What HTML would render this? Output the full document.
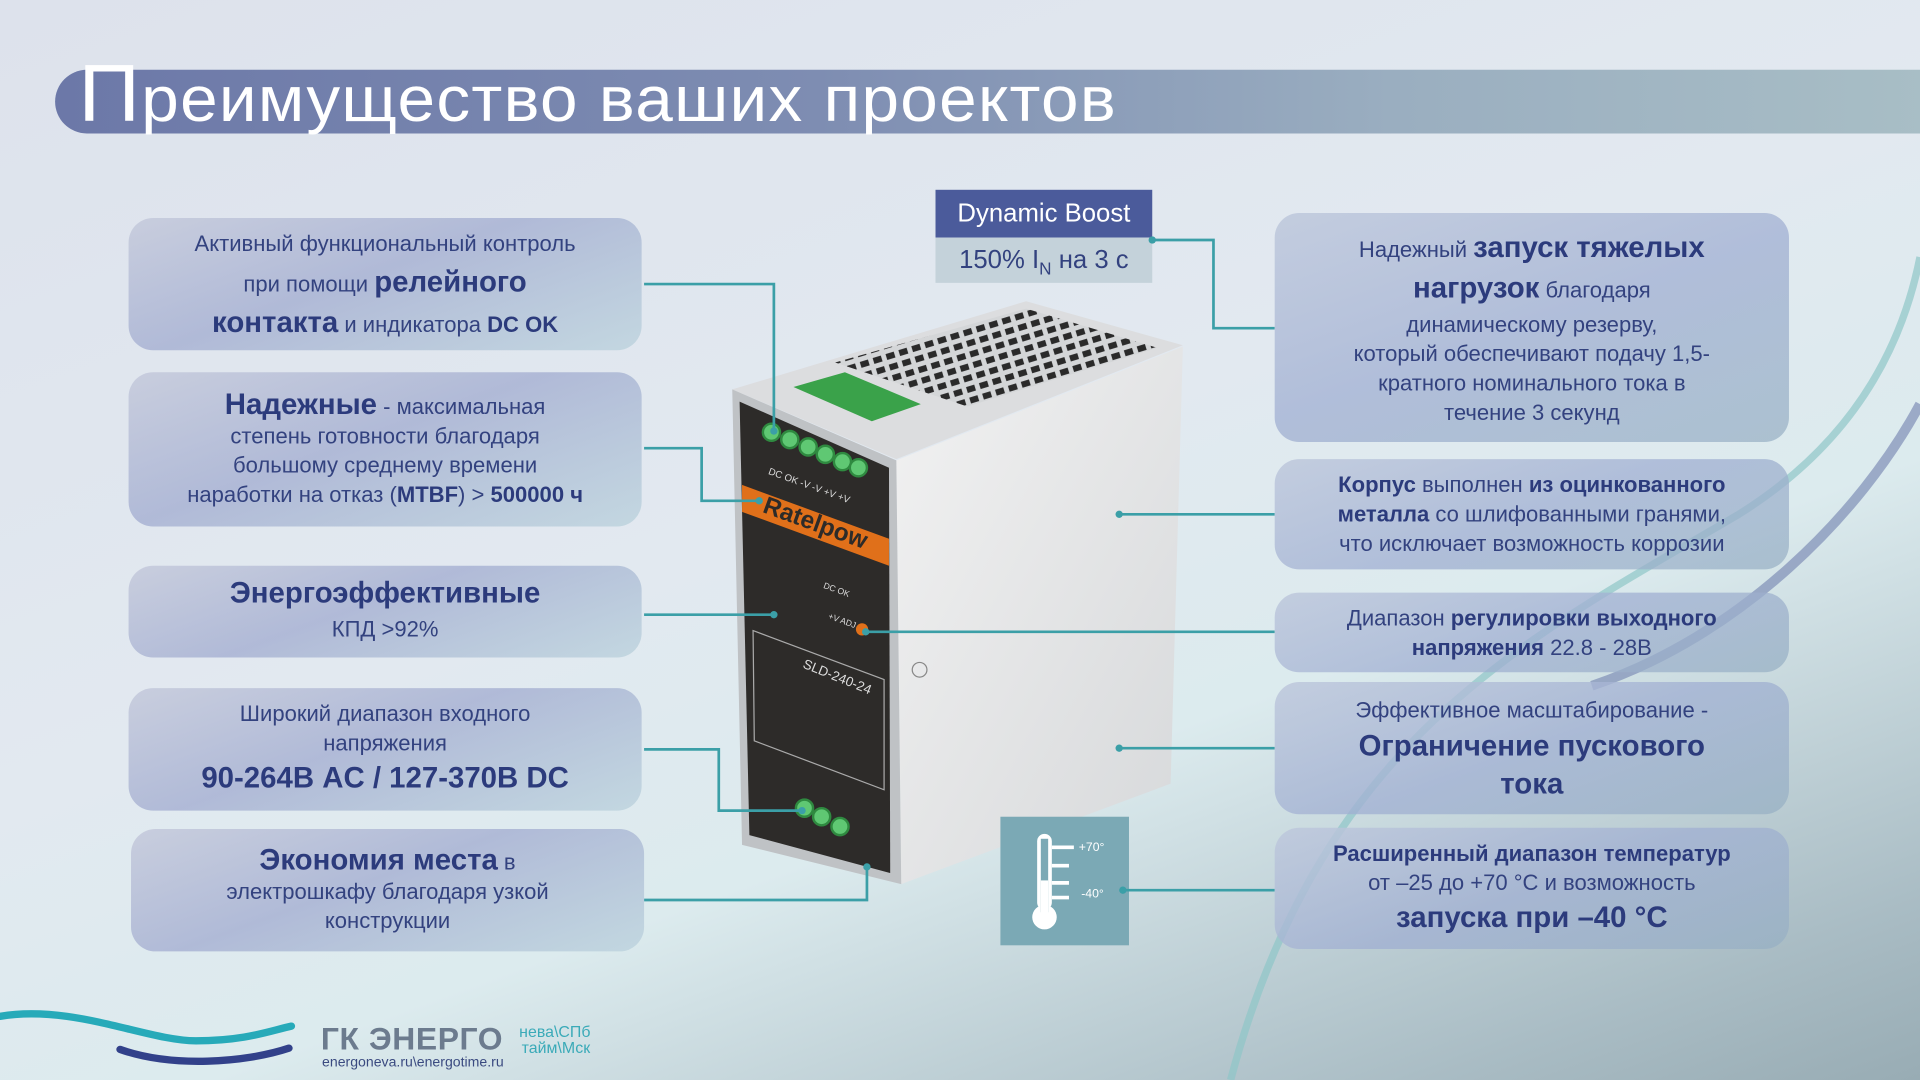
<!DOCTYPE html>
<html><head><meta charset="utf-8">
<style>
html,body{margin:0;padding:0;width:1920px;height:1080px;overflow:hidden;}
#w{position:absolute;left:0;top:0;width:1568px;height:882px;transform:scale(1.22449);transform-origin:0 0;
background:linear-gradient(160deg,#dde2ec 0%,#e2e9f0 45%,#dcebee 65%,#a9bcc4 90%,#98acb4 100%);
font-family:"Liberation Sans","DejaVu Sans",sans-serif;color:#33427f;overflow:hidden;}
.band{position:absolute;left:45px;top:57px;width:1560px;height:52px;border-radius:26px 0 0 26px;
background:linear-gradient(90deg,#6c78a8 0%,#7e8db2 40%,#9aaec0 70%,#a9bfc6 100%);}
.title{position:absolute;left:64px;top:38px;font-size:52px;color:#fff;letter-spacing:1px;white-space:nowrap;transform:scaleX(1.06);transform-origin:0 0;}
.title b{font-weight:normal;font-size:66px;}
.box{position:absolute;border-radius:20px;display:flex;flex-direction:column;justify-content:center;align-items:center;text-align:center;
background:linear-gradient(160deg,rgba(198,203,220,.9) 0%,rgba(168,178,211,.85) 45%,rgba(190,212,222,.85) 100%);
font-size:18px;line-height:24px;box-sizing:border-box;padding:0 10px;}
.box b{font-weight:bold;color:#2c3b7c}
.big{font-size:24px;}
.r{background:linear-gradient(160deg,rgba(190,200,220,.85) 0%,rgba(160,175,210,.75) 50%,rgba(150,175,195,.7) 100%);}
.db1{position:absolute;left:764px;top:155px;width:177px;height:39px;background:#4b5b9b;color:#fff;font-size:21px;line-height:39px;text-align:center;}
.db2{position:absolute;left:764px;top:194px;width:177px;height:37px;background:#c4d2da;color:#33427f;font-size:21px;line-height:37px;text-align:center;}
.th{position:absolute;left:817px;top:667px;width:105px;height:105px;background:#7ba9b5;}
svg{position:absolute;left:0;top:0}
.logo{position:absolute;left:262px;top:833px;font-size:26px;font-weight:bold;color:#6c7b8e;letter-spacing:0.5px}
.sm{position:absolute;font-size:13px;color:#3aaab8;line-height:13px}
.url{position:absolute;left:263px;top:862px;font-size:11.5px;color:#3a4a80}
</style></head><body>
<div id="w">
<svg width="1568" height="882">
<path d="M1005 882 C1080 600 1250 520 1420 420 C1500 370 1550 300 1568 210" stroke="#8fc6c8" stroke-width="6" fill="none" opacity=".7"/>
<path d="M1300 560 C1420 520 1520 420 1568 330" stroke="#7f8fb6" stroke-width="8" fill="none" opacity=".7"/>
<path d="M0 830 C60 820 120 850 160 850 C200 850 220 842 238 838" stroke="#27aab9" stroke-width="6" fill="none" stroke-linecap="round"/>
<path d="M98 857 C140 872 200 868 236 856" stroke="#32418a" stroke-width="6" fill="none" stroke-linecap="round"/>
</svg>
<div class="band"></div>
<div class="title"><b>П</b>реимущество ваших проектов</div>

<svg width="1568" height="882">
<defs>
<linearGradient id="side" x1="0" y1="0" x2="1" y2="1"><stop offset="0" stop-color="#f2f2f2"/><stop offset="1" stop-color="#d6d8da"/></linearGradient>
<pattern id="vent" width="11" height="9" patternUnits="userSpaceOnUse" patternTransform="rotate(-17)"><rect width="11" height="9" fill="#d4d6d8"/><rect x="2" y="2" width="7" height="5" fill="#2a2a2a"/></pattern>
</defs>
<polygon points="598,318 838,246 966,282 732,375" fill="#dcdddf"/>
<polygon points="682,296 838,252 945,284 790,332" fill="url(#vent)"/>
<polygon points="648,316 690,304 752,330 712,344" fill="#3aa24a"/>
<polygon points="732,376 966,283 956,640 736,722" fill="url(#side)"/>
<polygon points="598,318 732,376 736,722 606,690" fill="#bfc2c5"/>
<polygon points="604,328 726,382 727,713 612,682" fill="#2d2b29"/>
<polygon points="606,396 726,440 726,462 606,418" fill="#e0701a"/>
<text x="622" y="418" fill="#2d2b29" font-size="20" font-weight="bold" transform="rotate(20 622 418)">Ratelpow</text>
<g fill="#5fc873" stroke="#2f8a40" stroke-width="2">
<circle cx="630" cy="353" r="7"/><circle cx="645" cy="359" r="7"/><circle cx="660" cy="365" r="7"/><circle cx="674" cy="371" r="7"/><circle cx="688" cy="377" r="7"/><circle cx="701" cy="382" r="7"/>
<circle cx="657" cy="660" r="7"/><circle cx="671" cy="667" r="7"/><circle cx="686" cy="675" r="7"/>
</g>
<text x="627" y="387" fill="#ddd" font-size="8" transform="rotate(20 627 387)">DC OK  -V  -V  +V  +V</text>
<text x="672" y="480" fill="#ddd" font-size="7" transform="rotate(20 672 480)">DC OK</text>
<text x="676" y="505" fill="#ddd" font-size="7" transform="rotate(20 676 505)">+V ADJ</text>
<circle cx="704" cy="514" r="5" fill="#e0701a"/>
<polygon points="615,515 722,555 722,645 616,605" fill="none" stroke="#aaa" stroke-width="1"/>
<text x="655" y="545" fill="#ddd" font-size="11" transform="rotate(22 655 545)">SLD-240-24</text>
<circle cx="751" cy="547" r="6" fill="none" stroke="#888"/>
</svg>

<div class="db1">Dynamic Boost</div>
<div class="db2">150% I<sub style="font-size:14px">N</sub> на 3 с</div>
<div class="th"><svg width="105" height="105">
<rect x="30" y="14" width="12" height="62" rx="6" fill="#fff"/><circle cx="36" cy="82" r="10" fill="#fff"/>
<rect x="33" y="18" width="6" height="60" fill="#7ba9b5"/><rect x="33" y="52" width="6" height="30" fill="#fff"/>
<g stroke="#fff" stroke-width="3"><line x1="42" y1="25" x2="60" y2="25"/><line x1="42" y1="40" x2="56" y2="40"/><line x1="42" y1="54" x2="56" y2="54"/><line x1="42" y1="66" x2="56" y2="66"/></g>
<text x="64" y="28" fill="#fff" font-size="10">+70°</text><text x="66" y="66" fill="#fff" font-size="10">-40°</text>
</svg></div>

<svg width="1568" height="882">
<g stroke="#3b9fa7" stroke-width="2.2" fill="none">
<polyline points="526,232 632,232 632,352"/>
<polyline points="526,366 573,366 573,409 620,409"/>
<polyline points="526,502 632,502"/>
<polyline points="526,612 587,612 587,662 655,662"/>
<polyline points="526,735 708,735 708,708"/>
<polyline points="1041,268 991,268 991,196 941,196"/>
<polyline points="1041,420 914,420"/>
<polyline points="1041,516 707,516"/>
<polyline points="1041,611 914,611"/>
<polyline points="1041,727 917,727"/>
</g>
<g fill="#3b9fa7"><circle cx="632" cy="352" r="3"/><circle cx="620" cy="409" r="3"/><circle cx="632" cy="502" r="3"/><circle cx="655" cy="662" r="3"/><circle cx="708" cy="708" r="3"/><circle cx="941" cy="196" r="3"/><circle cx="914" cy="420" r="3"/><circle cx="707" cy="516" r="3"/><circle cx="914" cy="611" r="3"/><circle cx="917" cy="727" r="3"/></g>
</svg>

<div class="box" style="left:105px;top:178px;width:419px;height:108px;line-height:31px">
<div>Активный функциональный контроль<br>при помощи <b class="big">релейного</b><br><b class="big">контакта</b> и индикатора <b>DC OK</b></div></div>
<div class="box" style="left:105px;top:304px;width:419px;height:126px">
<div><b class="big">Надежные</b> - максимальная<br>степень готовности благодаря<br>большому среднему времени<br>наработки на отказ (<b>MTBF</b>) &gt; <b>500000 ч</b></div></div>
<div class="box" style="left:105px;top:462px;width:419px;height:75px;line-height:28px">
<div><b class="big">Энергоэффективные</b><br>КПД &gt;92%</div></div>
<div class="box" style="left:105px;top:562px;width:419px;height:100px">
<div>Широкий диапазон входного<br>напряжения<br><b class="big" style="line-height:34px">90-264В AC / 127-370В DC</b></div></div>
<div class="box" style="left:107px;top:677px;width:419px;height:100px">
<div><b class="big">Экономия места</b> в<br>электрошкафу благодаря узкой<br>конструкции</div></div>

<div class="box r" style="left:1041px;top:174px;width:420px;height:187px">
<div><span style="line-height:32px">Надежный <b class="big">запуск тяжелых</b></span><br><span style="line-height:32px"><b class="big">нагрузок</b> благодаря</span><br>динамическому резерву,<br>который обеспечивают подачу 1,5-<br>кратного номинального тока в<br>течение 3 секунд</div></div>
<div class="box r" style="left:1041px;top:375px;width:420px;height:90px">
<div><b>Корпус</b> выполнен <b>из оцинкованного</b><br><b>металла</b> со шлифованными гранями,<br>что исключает возможность коррозии</div></div>
<div class="box r" style="left:1041px;top:484px;width:420px;height:65px">
<div>Диапазон <b>регулировки выходного</b><br><b>напряжения</b> 22.8 - 28В</div></div>
<div class="box r" style="left:1041px;top:557px;width:420px;height:108px;line-height:30px">
<div>Эффективное масштабирование -<br><b class="big">Ограничение пускового</b><br><b class="big">тока</b></div></div>
<div class="box r" style="left:1041px;top:676px;width:420px;height:99px">
<div><b>Расширенный диапазон температур</b><br>от –25 до +70 °C и возможность<br><b class="big" style="line-height:34px">запуска при –40 °C</b></div></div>

<div class="logo">ГК ЭНЕРГО</div>
<div class="sm" style="left:424px;top:836px">нева\СПб</div>
<div class="sm" style="left:426px;top:849px">тайм\Мск</div>
<div class="url">energoneva.ru\energotime.ru</div>
</div>
</body></html>
